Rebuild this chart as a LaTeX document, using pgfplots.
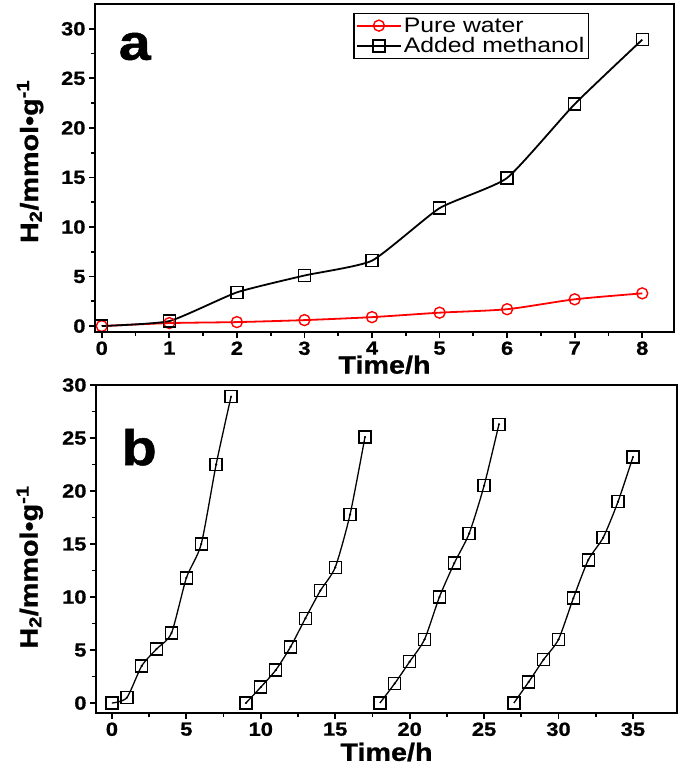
\documentclass[border=0pt]{standalone}
\usepackage{fontspec}
\setmainfont{Liberation Sans}[FakeStretch=1.18]
\newfontfamily\heavy{Liberation Sans Bold}[FakeStretch=1.15, FakeBold=1.0]
\usepackage{pgfplots}
\pgfplotsset{compat=1.18}
\begin{document}
\begin{tikzpicture}
\path[use as bounding box] (0pt,0pt) rectangle (683pt,-767pt);
\pgfplotsset{
  myaxis/.style={
    scale only axis,
    at={(0pt,0pt)}, anchor=south west,
    axis line style={line width=2.2pt},
    tick style={line width=1.8pt,black},
    major tick length=6pt, minor tick length=4pt,
    tick align=outside,
    xtick pos=bottom, ytick pos=left,
    minor x tick num=1, minor y tick num=1,
    /pgf/number format/assume math mode=true,
    ticklabel style={font=\fontsize{19}{19}\selectfont\heavy},
    label style={font=\fontsize{25}{25}\selectfont\heavy},
    clip=false,
  }
}
\begin{scope}[xshift=95pt,yshift=-332pt]
\begin{axis}[myaxis,
  width=579pt, height=328pt,
  xmin=-0.1, xmax=8.47, ymin=-0.6, ymax=32.5,
  xtick={0,1,...,8}, ytick={0,5,...,30},
  xlabel={Time/h},
  ylabel={H\textsubscript{2}/mmol•g\textsuperscript{-1}},
  xlabel style={at={(axis description cs:0.5,-0.1)},anchor=center},
  ylabel style={at={(axis description cs:-0.112,0.52)},anchor=center},
  legend style={at={(axis description cs:0.446,0.973)},anchor=north west,
    font=\fontsize{21}{21}\selectfont, draw=black, line width=1.6pt,
    inner sep=2pt, row sep=0pt,
    /tikz/every even column/.append style={column sep=2pt}},
  legend cell align=left,
  legend image code/.code={\draw[#1, mark=none] plot coordinates {(0pt,0pt) (44pt,0pt)};
    \draw[#1, only marks] plot coordinates {(22pt,0pt)};},
]
\addplot[red, line width=1.8pt, smooth, tension=0.4, mark=o, mark size=5.5pt,
  mark options={fill=white, line width=1.4pt}]
  coordinates {(0,0) (1,0.3) (2,0.4) (3,0.6) (4,0.9) (5,1.35) (6,1.7) (7,2.7) (8,3.3)};
\addlegendentry{Pure water}
\addplot[black, line width=1.8pt, smooth, tension=0.3, mark=square, mark size=6pt,
  mark options={fill=white, line width=1.4pt}]
  coordinates {(0,0) (1,0.5) (2,3.4) (3,5.1) (4,6.6) (5,11.9) (6,14.95) (7,22.4) (8,28.9)};
\addlegendentry{Added methanol}
\node[anchor=base west, font=\fontsize{50}{50}\selectfont\heavy] at (axis description cs:0.035,0.83) {a};
\end{axis}
\end{scope}

\begin{scope}[xshift=96pt,yshift=-713pt]
\begin{axis}[myaxis,
  width=581pt, height=328pt,
  xmin=-1.07, xmax=37.96, ymin=-0.94, ymax=30,
  xtick={0,5,...,35}, ytick={0,5,...,30},
  xlabel={Time/h},
  ylabel={H\textsubscript{2}/mmol•g\textsuperscript{-1}},
  xlabel style={at={(axis description cs:0.5,-0.119)},anchor=center},
  ylabel style={at={(axis description cs:-0.114,0.445)},anchor=center},
]
\pgfplotsset{cyc/.style={black, line width=1.3pt, smooth, tension=0.4, mark=square, mark size=6pt,
  mark options={fill=white, line width=1.4pt}}}
\addplot[cyc] coordinates {(0,0) (1,0.5) (2,3.5) (3,5.1) (4,6.6) (5,11.8) (6,15.0) (7,22.5) (8,28.9)};
\addplot[cyc] coordinates {(9,0) (10,1.5) (11,3.1) (12,5.3) (13,8.0) (14,10.6) (15,12.8) (16,17.8) (17,25.1)};
\addplot[cyc] coordinates {(18,0) (19,1.85) (20,3.9) (21,6.0) (22,10.0) (23,13.2) (24,16.0) (25,20.5) (26,26.3)};
\addplot[cyc] coordinates {(27,0) (28,2.0) (29,4.1) (30,6.0) (31,9.9) (32,13.5) (33,15.6) (34,19.0) (35,23.2)};
\addplot[only marks, mark=*, mark size=0.9pt, black] coordinates {
(1,0.5) (2,3.5) (3,5.1) (4,6.6) (5,11.8) (6,15.0) (7,22.5) (8,28.9)
(9,0) (10,1.5) (11,3.1) (12,5.3) (13,8.0) (14,10.6) (15,12.8) (16,17.8) (17,25.1)
(19,1.85) (20,3.9) (21,6.0) (22,10.0) (23,13.2) (24,16.0) (25,20.5) (26,26.3)
(28,2.0) (29,4.1) (30,6.0) (31,9.9) (32,13.5) (33,15.6) (34,19.0) (35,23.2)};
\node[anchor=base west, font=\fontsize{50}{50}\selectfont\heavy] at (axis description cs:0.038,0.756) {b};
\end{axis}
\end{scope}
\end{tikzpicture}
\end{document}
